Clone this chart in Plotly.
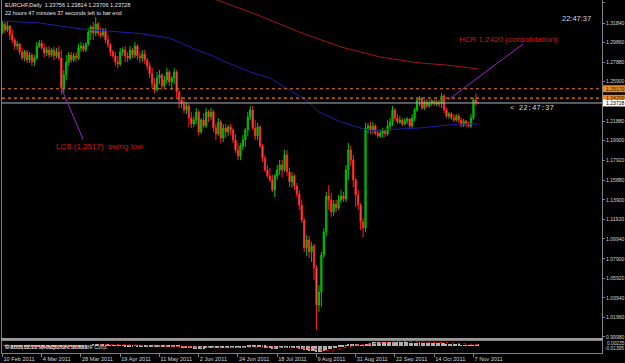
import plotly.graph_objects as go
import pandas as pd

# ---------------- data (EURCHF daily) ----------------
opens = [1.3093,1.3174,1.3114,1.3154,1.3063,1.3012,1.2951,1.2971,1.2890,1.2829,
1.2890,1.2809,1.2860,1.2789,1.2829,1.2951,1.2982,1.2931,1.2880,1.2911,
1.2860,1.2911,1.2850,1.2890,1.2829,1.2525,1.2657,1.2789,1.2860,1.2809,
1.2850,1.2829,1.2931,1.2951,1.2911,1.2971,1.3093,1.3144,1.3083,1.3174,
1.3083,1.3063,1.3114,1.3012,1.2961,1.2890,1.2850,1.2789,1.2768,1.2890,
1.2911,1.2850,1.2829,1.2911,1.2860,1.2951,1.2850,1.2829,1.2870,1.2809,
1.2748,1.2667,1.2565,1.2505,1.2626,1.2657,1.2545,1.2606,1.2687,1.2586,
1.2626,1.2687,1.2484,1.2403,1.2362,1.2302,1.2342,1.2220,1.2159,1.2200,
1.2281,1.2078,1.2200,1.2139,1.2281,1.2230,1.2281,1.2119,1.2058,1.2180,
1.2017,1.2119,1.2078,1.2129,1.2099,1.1997,1.1896,1.1835,1.1936,1.1997,
1.2099,1.2230,1.2302,1.2119,1.2038,1.2129,1.1936,1.1814,1.1693,1.1632,
1.1591,1.1490,1.1632,1.1693,1.1743,1.1693,1.1845,1.1672,1.1571,1.1632,
1.1530,1.1449,1.1337,1.1185,1.0901,1.0982,1.0860,1.0921,1.0698,1.0322,
1.0454,1.0830,1.1063,1.1429,1.1388,1.1266,1.1347,1.1307,1.1388,1.1429,
1.1398,1.1693,1.1896,1.1794,1.1591,1.1439,1.1337,1.1165,1.1104,1.2119,
1.2139,1.2099,1.2139,1.2068,1.2038,1.2068,1.2088,1.2058,1.2139,1.2180,
1.2302,1.2220,1.2180,1.2200,1.2159,1.2190,1.2210,1.2139,1.2220,1.2302,
1.2403,1.2423,1.2322,1.2383,1.2342,1.2373,1.2393,1.2362,1.2383,1.2362,
1.2444,1.2302,1.2241,1.2261,1.2220,1.2200,1.2241,1.2200,1.2149,1.2190,
1.2159,1.2139,1.2220,1.2403,1.23756]

highs = [1.3205,1.3195,1.3195,1.3164,1.3114,1.3032,1.3002,1.2982,1.2931,1.2911,
1.2911,1.2890,1.2880,1.2860,1.2992,1.3012,1.3012,1.2971,1.2941,1.2951,
1.2931,1.2941,1.2931,1.2951,1.2911,1.2708,1.2860,1.2890,1.2890,1.2880,
1.2890,1.2971,1.2992,1.2982,1.2992,1.3134,1.3164,1.3195,1.3245,1.3195,
1.3134,1.3134,1.3134,1.3063,1.2982,1.2911,1.2890,1.2850,1.2931,1.2941,
1.2951,1.2890,1.2951,1.2931,1.2992,1.2971,1.2890,1.2911,1.2911,1.2829,
1.2789,1.2728,1.2626,1.2687,1.2708,1.2677,1.2647,1.2728,1.2708,1.2647,
1.2728,1.2708,1.2505,1.2433,1.2403,1.2383,1.2362,1.2281,1.2241,1.2322,
1.2302,1.2220,1.2271,1.2322,1.2302,1.2322,1.2302,1.2159,1.2220,1.2200,
1.2159,1.2159,1.2149,1.2159,1.2119,1.2058,1.1967,1.1967,1.2048,1.2119,
1.2281,1.2342,1.2342,1.2200,1.2170,1.2149,1.1956,1.1845,1.1743,1.1713,
1.1642,1.1652,1.1743,1.1794,1.1794,1.1896,1.1896,1.1713,1.1672,1.1652,
1.1561,1.1490,1.1388,1.1205,1.1033,1.1023,1.0962,1.0941,1.0728,1.0525,
1.0860,1.1104,1.1469,1.1540,1.1459,1.1388,1.1388,1.1439,1.1490,1.1469,
1.1743,1.1967,1.1936,1.1845,1.1611,1.1490,1.1358,1.1205,1.2170,1.2170,
1.2180,1.2180,1.2159,1.2099,1.2099,1.2119,1.2109,1.2200,1.2220,1.2342,
1.2322,1.2261,1.2241,1.2220,1.2220,1.2230,1.2220,1.2261,1.2322,1.2423,
1.2444,1.2433,1.2403,1.2413,1.2403,1.2413,1.2403,1.2403,1.2403,1.2474,
1.2464,1.2322,1.2281,1.2281,1.2261,1.2261,1.2261,1.2220,1.2210,1.2200,
1.2180,1.2261,1.2423,1.2474,1.23814]

lows = [1.3073,1.3083,1.3093,1.3012,1.2982,1.2911,1.2911,1.2860,1.2809,1.2799,
1.2779,1.2779,1.2748,1.2748,1.2809,1.2931,1.2911,1.2839,1.2850,1.2829,
1.2839,1.2809,1.2829,1.2809,1.2460,1.2470,1.2606,1.2748,1.2779,1.2789,
1.2789,1.2809,1.2890,1.2890,1.2890,1.2951,1.3012,1.3012,1.3053,1.3053,
1.3032,1.3042,1.2982,1.2931,1.2850,1.2829,1.2748,1.2728,1.2748,1.2850,
1.2789,1.2789,1.2809,1.2829,1.2829,1.2809,1.2779,1.2789,1.2768,1.2708,
1.2626,1.2525,1.2474,1.2484,1.2565,1.2505,1.2525,1.2565,1.2545,1.2505,
1.2565,1.2433,1.2322,1.2322,1.2271,1.2261,1.2129,1.2119,1.2129,1.2159,
1.2048,1.2058,1.2119,1.2119,1.2180,1.2200,1.2078,1.1997,1.2038,1.1967,
1.1977,1.2017,1.2038,1.2048,1.1967,1.1865,1.1794,1.1794,1.1896,1.1926,
1.2038,1.2200,1.2099,1.1997,1.1997,1.1916,1.1774,1.1672,1.1611,1.1571,
1.1469,1.1418,1.1591,1.1642,1.1621,1.1672,1.1632,1.1520,1.1510,1.1490,
1.1418,1.1287,1.1155,1.0860,1.0820,1.0799,1.0759,1.0576,1.0069,1.0251,
1.0302,1.0799,1.1023,1.1287,1.1216,1.1226,1.1266,1.1287,1.1358,1.1368,
1.1368,1.1591,1.1733,1.1520,1.1317,1.1287,1.1084,1.1012,1.1063,1.2068,
1.2058,1.2058,1.2048,1.2017,1.2017,1.2027,1.2027,1.2038,1.2099,1.2139,
1.2190,1.2159,1.2159,1.2139,1.2149,1.2159,1.2119,1.2119,1.2190,1.2281,
1.2342,1.2302,1.2302,1.2322,1.2322,1.2342,1.2342,1.2342,1.2332,1.2322,
1.2271,1.2220,1.2210,1.2200,1.2180,1.2180,1.2170,1.2129,1.2129,1.2129,
1.2129,1.2119,1.2200,1.2342,1.23706]

closes = [1.3174,1.3114,1.3154,1.3063,1.3012,1.2951,1.2971,1.2890,1.2829,1.2890,
1.2809,1.2860,1.2789,1.2829,1.2951,1.2982,1.2931,1.2880,1.2911,1.2860,
1.2911,1.2850,1.2890,1.2829,1.2525,1.2657,1.2789,1.2860,1.2809,1.2850,
1.2829,1.2931,1.2951,1.2911,1.2971,1.3093,1.3144,1.3083,1.3174,1.3083,
1.3063,1.3114,1.3012,1.2961,1.2890,1.2850,1.2789,1.2768,1.2890,1.2911,
1.2850,1.2829,1.2911,1.2860,1.2951,1.2850,1.2829,1.2870,1.2809,1.2748,
1.2667,1.2565,1.2505,1.2626,1.2657,1.2545,1.2606,1.2687,1.2586,1.2626,
1.2687,1.2484,1.2403,1.2362,1.2302,1.2342,1.2220,1.2159,1.2200,1.2281,
1.2078,1.2200,1.2139,1.2281,1.2230,1.2281,1.2119,1.2058,1.2180,1.2017,
1.2119,1.2078,1.2129,1.2099,1.1997,1.1896,1.1835,1.1936,1.1997,1.2099,
1.2230,1.2302,1.2119,1.2038,1.2129,1.1936,1.1814,1.1693,1.1632,1.1591,
1.1490,1.1632,1.1693,1.1743,1.1693,1.1845,1.1672,1.1571,1.1632,1.1530,
1.1449,1.1337,1.1185,1.0901,1.0982,1.0860,1.0921,1.0698,1.0322,1.0454,
1.0830,1.1063,1.1429,1.1388,1.1266,1.1347,1.1307,1.1388,1.1429,1.1398,
1.1693,1.1896,1.1794,1.1591,1.1439,1.1337,1.1165,1.1104,1.2119,1.2139,
1.2099,1.2139,1.2068,1.2038,1.2068,1.2088,1.2058,1.2139,1.2180,1.2302,
1.2220,1.2180,1.2200,1.2159,1.2190,1.2210,1.2139,1.2220,1.2302,1.2403,
1.2423,1.2322,1.2383,1.2342,1.2373,1.2393,1.2362,1.2383,1.2362,1.2444,
1.2302,1.2241,1.2261,1.2220,1.2200,1.2241,1.2200,1.2149,1.2190,1.2159,
1.2139,1.2220,1.2403,1.2376,1.23728]

ma_fast_idx = [0, 15, 32, 44, 56, 68, 72, 78, 85, 89, 101, 109, 117, 125, 129, 138, 146, 150, 154, 162, 170, 178, 186, 194]
ma_fast = [1.3205, 1.3185, 1.3124, 1.3098, 1.3078, 1.3032, 1.2992, 1.2921, 1.2860, 1.2809, 1.2687, 1.2626,
           1.2505, 1.2383, 1.2281, 1.2180, 1.2119, 1.2088, 1.2099, 1.2109, 1.2119, 1.2139, 1.2159, 1.2159]
ma_slow_idx = [86, 101, 121, 138, 146, 154, 170, 181, 194]
ma_slow = [1.3430, 1.3296, 1.3093, 1.2941, 1.2890, 1.2839, 1.2779, 1.2758, 1.2718]

# date axis (every 16 bars)
date_idx = [0, 16, 32, 48, 64, 80, 96, 112, 128, 144, 160, 176, 192]
date_labels = ["10 Feb 2011", "4 Mar 2011", "28 Mar 2011", "19 Apr 2011", "11 May 2011", "2 Jun 2011",
               "24 Jun 2011", "18 Jul 2011", "9 Aug 2011", "31 Aug 2011", "22 Sep 2011", "14 Oct 2011", "7 Nov 2011"]

# price scale
price_ticks = [1.3388, 1.3184, 1.2986, 1.2788, 1.2590, 1.2188, 1.1990, 1.1792, 1.1588, 1.1390,
               1.1192, 1.0994, 1.0790, 1.0592, 1.0394, 1.0196, 0.9998]
price_labels = ["%.5f" % v for v in price_ticks]

# levels
lcs_level = 1.2517
hcr_level = 1.2420
bid = closes[-1]
# trendlines (bar index, price)
lcs_line = (24.3, 1.2505, 32.8, 1.2007)
hcr_line = (181.6, 1.2403, 212.2, 1.2971)
lcs_text_pos = (21.0, 1.1936)
hcr_text_pos = (185.3, 1.3022)

idx = list(range(len(closes)))

# MACD(12,26,9) from the closes
s = pd.Series(closes)
macd = s.ewm(span=12, adjust=False).mean() - s.ewm(span=26, adjust=False).mean()
signal = macd.rolling(9, min_periods=1).mean()

# ---------------- layout helpers ----------------
W, H = 625, 363
def px(x):
    return x / W
def py(y):
    return 1 - y / H

FONT = "Liberation Sans"
GRAY = "#808080"
LBL = "#d0d0d0"
TS = 5.1  # scale label font size

fig = go.Figure()
fig.add_trace(go.Candlestick(
    x=idx, open=opens, high=highs, low=lows, close=closes,
    increasing=dict(line=dict(color="#00c000", width=1), fillcolor="#00a000"),
    decreasing=dict(line=dict(color="#ff2020", width=1), fillcolor="#ff9090"),
    whiskerwidth=0, showlegend=False, hoverinfo="skip", xaxis="x", yaxis="y"))
fig.add_trace(go.Scatter(x=ma_fast_idx, y=ma_fast, mode="lines", line=dict(color="#1c1ca8", width=1),
                         showlegend=False, hoverinfo="skip", xaxis="x", yaxis="y"))
fig.add_trace(go.Scatter(x=ma_slow_idx, y=ma_slow, mode="lines", line=dict(color="#a01414", width=1),
                         showlegend=False, hoverinfo="skip", xaxis="x", yaxis="y"))
fig.add_trace(go.Bar(x=idx, y=macd, width=0.4, marker=dict(color="#b0b0b0", line=dict(width=0)),
                     showlegend=False, hoverinfo="skip", xaxis="x2", yaxis="y2"))
fig.add_trace(go.Scatter(x=idx, y=signal, mode="lines", line=dict(color="#ff0000", width=1, dash="dot"),
                         showlegend=False, hoverinfo="skip", xaxis="x2", yaxis="y2"))

y_top = 1.3418
y_bot = 1.3418 - 0.001015 * 338
xr = [-0.2, 244.4]
mlo, mhi = float(macd.min()), float(macd.max())

fig.update_layout(
    width=W, height=H, margin=dict(l=0, r=0, t=0, b=0, autoexpand=False),
    paper_bgcolor="#000000", plot_bgcolor="#000000",
    font=dict(family=FONT, color=LBL, size=6),
    xaxis=dict(domain=[px(2), px(602)], range=xr, showticklabels=False, showgrid=False, zeroline=False,
               rangeslider=dict(visible=False), showline=True, linecolor="#9a9a9a", linewidth=2,
               anchor="y", ticks="", automargin=False),
    yaxis=dict(domain=[py(338), 1], range=[y_bot, y_top], side="right", tickvals=price_ticks,
               ticktext=price_labels, tickfont=dict(size=TS, color=LBL, family=FONT), ticks="outside",
               ticklen=2, tickcolor=GRAY, showgrid=False, zeroline=False, showline=True, mirror=True,
               linecolor=GRAY, linewidth=1, anchor="x", automargin=False),
    xaxis2=dict(domain=[px(2), px(602)], range=xr, matches="x", anchor="y2", tickvals=date_idx,
                ticktext=date_labels, ticklabelposition="outside right", ticks="outside", ticklen=3,
                tickangle=0, tickcolor=GRAY, tickfont=dict(size=5.6, color=LBL, family=FONT), showgrid=False,
                zeroline=False, showline=True, mirror=True, linecolor=GRAY, linewidth=1, automargin=False),
    yaxis2=dict(domain=[py(353), py(340.5)], range=[mlo * 1.15, mhi * 1.15], showticklabels=False,
                showgrid=False, zeroline=False, showline=True, mirror=True, linecolor=GRAY, linewidth=1,
                anchor="x2", ticks="", automargin=False),
    bargap=0,
)

shapes = []
# level lines
shapes.append(dict(type="line", xref="paper", yref="y", x0=px(2), x1=px(602), y0=lcs_level, y1=lcs_level,
                   line=dict(color="#e07a30", width=1, dash="dot")))
shapes.append(dict(type="line", xref="paper", yref="y", x0=px(2), x1=px(602), y0=hcr_level, y1=hcr_level,
                   line=dict(color="#9a5420", width=2, dash="dot")))
shapes.append(dict(type="line", xref="paper", yref="y", x0=px(2), x1=px(602), y0=bid, y1=bid,
                   line=dict(color="#b4b4b4", width=1)))
# trend lines
for (a, b, c, d) in (lcs_line, hcr_line):
    shapes.append(dict(type="line", xref="x", yref="y", x0=a, y0=b, x1=c, y1=d,
                       line=dict(color="#a020d0", width=1)))

ann = []
NB = "\u00a0"
# highlighted price labels on the scale (background box to the edge + text)
half = 3.5 * 0.001015
for lvl, txt, bg, fg in ((lcs_level, "1.25170", "#e8891c", "#1a1a1a"),
                         (hcr_level, "1.24200", "#e8891c", "#1a1a1a"),
                         (bid, "1.23728", "#ffffff", "#000000")):
    shapes.append(dict(type="rect", xref="paper", yref="y", x0=px(603), x1=1.0, y0=lvl - half, y1=lvl + half,
                       fillcolor=bg, line=dict(width=0), layer="above"))
    ann.append(dict(xref="paper", yref="y", x=px(605), y=lvl, xanchor="left", yanchor="middle",
                    text=txt, showarrow=False, borderpad=0,
                    font=dict(size=TS, color=fg, family=FONT)))
fig.update_layout(shapes=shapes)

ann.append(dict(xref="paper", yref="paper", x=px(3), y=py(5.5), xanchor="left", yanchor="middle",
                text="EURCHF,Daily" + NB * 2 + "1.23756 1.23814 1.23706 1.23728", showarrow=False,
                font=dict(size=5.6, color="#e4e4e4", family=FONT)))
ann.append(dict(xref="paper", yref="paper", x=px(3), y=py(13.5), xanchor="left", yanchor="middle",
                text="22 hours 47 minutes 37 seconds left to bar end", showarrow=False,
                font=dict(size=5.6, color="#e4e4e4", family=FONT)))
ann.append(dict(xref="paper", yref="paper", x=px(560), y=py(19), xanchor="left", yanchor="middle",
                text="22:47:37", showarrow=False, font=dict(size=7.5, color="#d8d8d8", family=FONT)))
ann.append(dict(xref="paper", yref="paper", x=px(508), y=py(108), xanchor="left", yanchor="middle",
                text="<" + NB + "22:47:37", showarrow=False,
                font=dict(size=7.3, color="#d8d8d8", family="Liberation Mono")))
ann.append(dict(xref="x", yref="y", x=lcs_text_pos[0], y=lcs_text_pos[1], xanchor="left", yanchor="middle",
                text="LCS (1.2517)" + NB * 2 + "swing low", showarrow=False,
                font=dict(size=8, color="#d21414", family=FONT)))
ann.append(dict(xref="x", yref="y", x=hcr_text_pos[0], y=hcr_text_pos[1], xanchor="left", yanchor="middle",
                text="HCR 1.2420 (consolidation)", showarrow=False,
                font=dict(size=8, color="#d21414", family=FONT)))
# sub-window texts
ann.append(dict(xref="paper", yref="paper", x=px(605), y=py(343.5), xanchor="left", yanchor="middle",
                text="0.00235", showarrow=False, font=dict(size=4.8, color=LBL, family=FONT)))
ann.append(dict(xref="paper", yref="paper", x=px(603), y=py(348.5), xanchor="left", yanchor="middle",
                text="-0.01395", showarrow=False, font=dict(size=4.8, color=LBL, family=FONT)))
ann.append(dict(xref="paper", yref="paper", x=px(3), y=py(347), xanchor="left", yanchor="middle",
                text="\u00a9 2001-2011 MetaQuotes Software Corp.", showarrow=False,
                font=dict(size=5.6, color="#d8d8d8", family=FONT)))
ann.append(dict(xref="paper", yref="paper", x=px(3), y=py(347), xanchor="left", yanchor="middle",
                text="MACD(12,26,9) 0.00172 0.00315", showarrow=False,
                font=dict(size=5.6, color="#c8c8c8", family=FONT)))
fig.update_layout(annotations=ann)

fig.write_html("out.html")
